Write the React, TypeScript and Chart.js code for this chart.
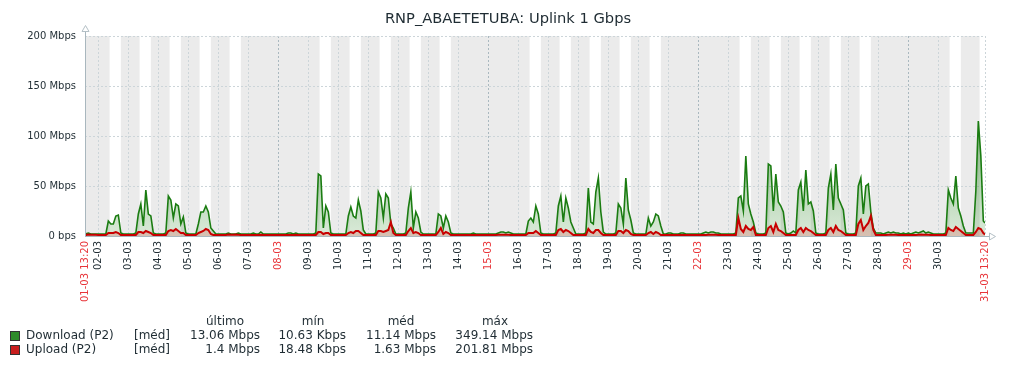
import React, { useEffect, useRef } from 'react';
import { Chart, registerables } from 'chart.js';

Chart.register(...registerables);

const FONT = '"DejaVu Sans", sans-serif';
const TEXT = '#1f2c33';
const RED = '#e8353a';

// time axis: hours counted from 01-03 00:00
const START_H = 13 + 20 / 60; // 01-03 13:20
const END_H = 30 * 24 + START_H; // 31-03 13:20
const WORK_START = 9;
const WORK_END = 18;

const dayLabels = [
  '01-03', '02-03', '03-03', '04-03', '05-03', '06-03', '07-03', '08-03', '09-03', '10-03',
  '11-03', '12-03', '13-03', '14-03', '15-03', '16-03', '17-03', '18-03', '19-03', '20-03',
  '21-03', '22-03', '23-03', '24-03', '25-03', '26-03', '27-03', '28-03', '29-03', '30-03', '31-03',
];
const startLabel = '01-03 13:20';
const endLabel = '31-03 13:20';
const sundayDays = [1, 8, 15, 22, 29];
const workDays = [2, 3, 4, 5, 6, 9, 10, 11, 12, 13, 16, 17, 18, 19, 20, 23, 24, 25, 26, 27, 30, 31];

const yTicks = [0, 50, 100, 150, 200];
const yTickLabels = ['0 bps', '50 Mbps', '100 Mbps', '150 Mbps', '200 Mbps'];

// Mbps, samples at 13:20 then every 2 h (00,02,...,22) per day, last at 13:20
const downloadMbps = [
  2, 2, 3, 2, 2, 2, // 01-03 (13:20,14..22)
  2, 2, 2, 2, 15, 12, 12, 20, 21, 3, 2, 2, // 02-03
  2, 2, 2, 3, 22, 32, 10, 46, 22, 20, 3, 2, // 03-03
  2, 2, 2, 3, 40, 36, 18, 32, 30, 12, 19, 3, // 04-03
  2, 2, 2, 2, 12, 24, 24, 30, 24, 8, 5, 2, // 05-03
  2, 2, 2, 2, 3, 2, 2, 2, 3, 2, 2, 2, // 06-03
  2, 2, 3, 2, 2, 4, 2, 2, 2, 2, 2, 2, // 07-03
  2, 2, 2, 2, 3, 3, 2, 3, 2, 2, 2, 2, // 08-03
  2, 2, 2, 3, 62, 60, 8, 30, 24, 3, 2, 2, // 09-03
  2, 2, 2, 2, 20, 29, 20, 18, 36, 25, 6, 2, // 10-03
  2, 2, 2, 3, 44, 38, 18, 42, 38, 12, 8, 2, // 11-03
  2, 2, 2, 3, 28, 44, 8, 24, 18, 4, 2, 2, // 12-03
  2, 2, 2, 2, 22, 20, 8, 20, 14, 3, 2, 2, // 13-03
  2, 2, 2, 2, 2, 2, 3, 2, 2, 2, 2, 2, // 14-03
  2, 2, 2, 2, 3, 4, 4, 3, 4, 3, 2, 2, // 15-03
  2, 2, 2, 2, 15, 18, 14, 30, 22, 3, 2, 2, // 16-03
  2, 2, 2, 3, 30, 40, 14, 38, 28, 14, 8, 2, // 17-03
  2, 2, 2, 3, 48, 14, 12, 44, 58, 24, 4, 2, // 18-03
  2, 2, 2, 3, 32, 28, 12, 58, 26, 16, 3, 2, // 19-03
  2, 2, 2, 2, 18, 10, 14, 22, 20, 10, 2, 2, // 20-03
  3, 3, 2, 2, 2, 3, 3, 2, 2, 2, 2, 2, // 21-03
  2, 2, 3, 4, 3, 4, 4, 3, 3, 2, 2, 2, // 22-03
  2, 2, 2, 3, 38, 40, 25, 80, 32, 22, 14, 3, // 23-03
  2, 2, 2, 3, 72, 70, 25, 62, 34, 30, 24, 3, // 24-03
  2, 3, 5, 3, 46, 54, 25, 66, 32, 34, 25, 3, // 25-03
  2, 2, 2, 3, 48, 62, 26, 72, 38, 32, 26, 3, // 26-03
  2, 2, 2, 3, 50, 58, 22, 50, 52, 24, 8, 3, // 27-03
  3, 3, 2, 3, 4, 3, 4, 3, 3, 2, 3, 2, // 28-03
  3, 2, 3, 4, 3, 4, 5, 3, 4, 3, 2, 2, // 29-03
  2, 2, 2, 3, 46, 38, 32, 60, 28, 20, 10, 3, // 30-03
  3, 3, 3, 45, 115, 80, 15, 13.06, // 31-03 (00..12, 13:20)
];

const uploadMbps = [
  1.5, 1.2, 1.5, 1.2, 1.2, 1.2, // 01-03
  1, 1, 1, 1, 3, 3, 3, 4, 3, 1, 1, 1, // 02-03
  1, 1, 1, 1, 4, 4, 3, 5, 4, 3, 1, 1, // 03-03
  1, 1, 1, 1, 5, 6, 5, 7, 5, 3, 3, 1, // 04-03
  1, 1, 1, 1, 3, 4, 5, 7, 6, 2, 1, 1, // 05-03
  1, 1, 1, 1, 1.5, 1.2, 1.2, 1.5, 1.2, 1, 1, 1, // 06-03
  1, 1, 1, 1, 1, 1.2, 1, 1, 1, 1, 1, 1, // 07-03
  1, 1, 1, 1, 1, 1, 1, 1.2, 1, 1, 1, 1, // 08-03
  1, 1, 1, 1, 4, 4, 2, 3, 3, 1, 1, 1, // 09-03
  1, 1, 1, 1, 3, 4, 3, 5, 5, 3, 1, 1, // 10-03
  1, 1, 1, 1, 5, 5, 4, 5, 6, 14, 3, 1, // 11-03
  1, 1, 1, 1, 5, 8, 3, 4, 3, 1, 1, 1, // 12-03
  1, 1, 1, 1, 4, 8, 2, 4, 3, 1, 1, 1, // 13-03
  1, 1, 1, 1, 1, 1, 1, 1, 1, 1, 1, 1, // 14-03
  1, 1, 1, 1, 1.2, 1.2, 1.2, 1.2, 1.2, 1, 1, 1, // 15-03
  1, 1, 1, 1, 3, 3, 3, 5, 3, 1, 1, 1, // 16-03
  1, 1, 1, 1, 6, 7, 4, 6, 5, 3, 1, 1, // 17-03
  1, 1, 1, 1, 7, 4, 3, 6, 6, 3, 1, 1, // 18-03
  1, 1, 1, 1, 5, 5, 3, 6, 5, 2, 1, 1, // 19-03
  1, 1, 1, 1, 3, 4, 2, 4, 3, 1, 1, 1, // 20-03
  1, 1, 1, 1, 1, 1, 1, 1, 1, 1, 1, 1, // 21-03
  1, 1, 1, 1, 1.2, 1.2, 1.2, 1.2, 1, 1, 1, 1, // 22-03
  1, 1, 1, 1, 18, 7, 4, 10, 7, 6, 9, 1, // 23-03
  1, 1, 1, 1, 8, 10, 4, 12, 6, 5, 3, 1, // 24-03
  1, 1, 1, 1, 6, 8, 4, 8, 6, 5, 3, 1, // 25-03
  1, 1, 1, 1, 6, 8, 4, 10, 6, 5, 3, 1, // 26-03
  1, 1, 1, 1, 12, 16, 6, 10, 13, 20, 6, 1, // 27-03
  1, 1, 1, 1, 1.2, 1.2, 1.2, 1.2, 1, 1, 1, 1, // 28-03
  1, 1, 1, 1, 1.2, 1.5, 1.2, 1.2, 1.2, 1, 1, 1, // 29-03
  1, 1, 1, 1, 8, 6, 5, 9, 7, 5, 3, 1, // 30-03
  1, 1, 1, 4, 8, 7, 3, 1.4, // 31-03
];

// legend statistics
const legendNames = ['Download (P2)', 'Upload (P2)'];
const legendColors = ['#2e8b2a', '#c81e1e'];
const legendFunc = ['[méd]', '[méd]'];
const legendHeaders = ['último', 'mín', 'méd', 'máx'];
const legendLast = ['13.06 Mbps', '1.4 Mbps'];
const legendMin = ['10.63 Kbps', '18.48 Kbps'];
const legendAvg = ['11.14 Mbps', '1.63 Mbps'];
const legendMax = ['349.14 Mbps', '201.81 Mbps'];
const title = 'RNP_ABAETETUBA: Uplink 1 Gbps';

function buildHours(): number[] {
  const hours: number[] = [START_H];
  for (let h = 14; h < END_H; h += 2) hours.push(h);
  hours.push(END_H);
  return hours;
}

const xTickValues: number[] = [START_H];
for (let d = 1; d < 30; d++) xTickValues.push(d * 24);
xTickValues.push(END_H);

function xLabel(v: number): string {
  if (Math.abs(v - START_H) < 0.01) return startLabel;
  if (Math.abs(v - END_H) < 0.01) return endLabel;
  return dayLabels[Math.round(v / 24)];
}
function isRedTick(v: number): boolean {
  if (Math.abs(v - START_H) < 0.01 || Math.abs(v - END_H) < 0.01) return true;
  const d = Math.round(v / 24) + 1;
  return Math.abs(v - (d - 1) * 24) < 0.01 && sundayDays.includes(d);
}

function gradient(chart: any, top: string, bottom: string) {
  const a = chart.chartArea;
  if (!a) return bottom;
  const g = chart.ctx.createLinearGradient(0, a.top, 0, a.bottom);
  g.addColorStop(0, top);
  g.addColorStop(1, bottom);
  return g;
}

const zbxPlugin = {
  id: 'zbx',
  beforeDraw(chart: any) {
    const { ctx, chartArea: a } = chart;
    const x = chart.scales.x;
    ctx.save();
    ctx.fillStyle = '#ffffff';
    ctx.fillRect(0, 0, chart.width, chart.height);
    ctx.fillStyle = '#ebebeb';
    ctx.fillRect(a.left, a.top, a.right - a.left, a.bottom - a.top);
    ctx.fillStyle = '#ffffff';
    for (const d of workDays) {
      const s = Math.max((d - 1) * 24 + WORK_START, START_H);
      const e = Math.min((d - 1) * 24 + WORK_END, END_H);
      if (e <= s) continue;
      const x1 = x.getPixelForValue(s);
      const x2 = x.getPixelForValue(e);
      ctx.fillRect(x1, a.top, x2 - x1, a.bottom - a.top);
    }
    ctx.restore();
  },
  afterDraw(chart: any) {
    const { ctx, chartArea: a } = chart;
    ctx.save();
    // axes
    ctx.strokeStyle = '#a9b7be';
    ctx.lineWidth = 1;
    ctx.beginPath();
    ctx.moveTo(a.left + 0.5, a.bottom);
    ctx.lineTo(a.left + 0.5, a.top - 5);
    ctx.moveTo(a.left, a.bottom + 0.5);
    ctx.lineTo(a.right + 4, a.bottom + 0.5);
    ctx.stroke();
    // arrows
    ctx.strokeStyle = '#b4c0c6';
    ctx.fillStyle = '#ffffff';
    ctx.beginPath();
    ctx.moveTo(a.left - 3, a.top - 4.5);
    ctx.lineTo(a.left + 0.5, a.top - 10.5);
    ctx.lineTo(a.left + 4, a.top - 4.5);
    ctx.closePath();
    ctx.fill();
    ctx.stroke();
    ctx.beginPath();
    ctx.moveTo(a.right + 4.5, a.bottom - 3);
    ctx.lineTo(a.right + 10.5, a.bottom + 0.5);
    ctx.lineTo(a.right + 4.5, a.bottom + 4);
    ctx.closePath();
    ctx.fill();
    ctx.stroke();

    // title
    ctx.fillStyle = TEXT;
    ctx.font = `14.67px ${FONT}`;
    ctx.textAlign = 'center';
    ctx.textBaseline = 'middle';
    ctx.fillText(title, 508, 19);

    // legend
    ctx.font = `12px ${FONT}`;
    const headerCenters = [225, 313, 401, 495];
    legendHeaders.forEach((h, i) => ctx.fillText(h, headerCenters[i], 322));
    const rowsY = [336, 350];
    const cols = [legendLast, legendMin, legendAvg, legendMax];
    const colRight = [260, 346, 436, 533];
    rowsY.forEach((y, r) => {
      ctx.fillStyle = legendColors[r];
      ctx.fillRect(10, y - 5, 10, 10);
      ctx.strokeStyle = '#333333';
      ctx.lineWidth = 1;
      ctx.strokeRect(10.5, y - 4.5, 9, 9);
      ctx.fillStyle = TEXT;
      ctx.textAlign = 'left';
      ctx.fillText(legendNames[r], 26, y);
      ctx.fillText(legendFunc[r], 134, y);
      ctx.textAlign = 'right';
      cols.forEach((c, i) => ctx.fillText(c[r], colRight[i], y));
      ctx.textAlign = 'center';
    });
    ctx.restore();
  },
};

export default function App() {
  const ref = useRef<HTMLCanvasElement>(null);
  useEffect(() => {
    const canvas = ref.current;
    if (!canvas) return;
    const hours = buildHours();
    const n = Math.min(hours.length, downloadMbps.length, uploadMbps.length);
    const dl = [];
    const ul = [];
    for (let i = 0; i < n; i++) {
      dl.push({ x: hours[i], y: downloadMbps[i] });
      ul.push({ x: hours[i], y: uploadMbps[i] });
    }
    const chart = new Chart(canvas, {
      type: 'line',
      data: {
        datasets: [
          {
            label: 'Upload (P2)',
            data: ul,
            order: 0,
            borderColor: '#c80000',
            borderWidth: 2,
            pointRadius: 0,
            tension: 0,
            fill: 'origin',
            backgroundColor: (c: any) => gradient(c.chart, 'rgba(200,0,0,0.3)', 'rgba(200,0,0,0.18)'),
          },
          {
            label: 'Download (P2)',
            data: dl,
            order: 1,
            borderColor: '#1a7c11',
            borderWidth: 1.6,
            pointRadius: 0,
            tension: 0,
            fill: 'origin',
            backgroundColor: (c: any) => gradient(c.chart, 'rgba(26,124,17,0.75)', 'rgba(26,124,17,0.16)'),
          },
        ],
      },
      options: {
        responsive: false,
        animation: false,
        events: [],
        layout: { padding: { top: 36, right: 31, left: 0, bottom: 0 } },
        plugins: { legend: { display: false }, tooltip: { enabled: false }, title: { display: false } },
        scales: {
          x: {
            type: 'linear',
            min: START_H,
            max: END_H,
            afterBuildTicks: (s: any) => {
              s.ticks = xTickValues.map((v) => ({ value: v }));
            },
            afterFit: (s: any) => {
              s.height = 132;
              s.paddingLeft = 0;
              s.paddingRight = 0;
            },
            ticks: {
              autoSkip: false,
              minRotation: 90,
              maxRotation: 90,
              padding: 5,
              font: { size: 10, family: FONT },
              color: (c: any) => (isRedTick(c.tick ? c.tick.value : 0) ? RED : TEXT),
              callback: (v: any) => xLabel(Number(v)),
            },
            grid: {
              drawTicks: false,
              lineWidth: 1,
              color: (c: any) => {
                const v = c.tick ? c.tick.value : 0;
                const d = Math.round(v / 24) + 1;
                return Math.abs(v - (d - 1) * 24) < 0.01 && sundayDays.includes(d) ? '#a9b8bf' : '#ccd5d9';
              },
            },
            border: { display: false, dash: [2, 2] },
          },
          y: {
            type: 'linear',
            min: 0,
            max: 200,
            afterBuildTicks: (s: any) => {
              s.ticks = yTicks.map((v) => ({ value: v }));
            },
            afterFit: (s: any) => {
              s.width = 85;
            },
            ticks: {
              padding: 9,
              font: { size: 10, family: FONT },
              color: TEXT,
              callback: (v: any) => yTickLabels[yTicks.indexOf(Number(v))],
            },
            grid: { drawTicks: false, lineWidth: 1, color: '#ccd5d9' },
            border: { display: false, dash: [2, 2] },
          },
        },
      },
      plugins: [zbxPlugin],
    } as any);
    return () => chart.destroy();
  }, []);
  return (
    <div style={{ position: 'absolute', left: 0, top: 0, width: 1016, height: 368, background: '#fff' }}>
      <canvas ref={ref} width={1016} height={368} style={{ display: 'block', width: 1016, height: 368 }} />
    </div>
  );
}
